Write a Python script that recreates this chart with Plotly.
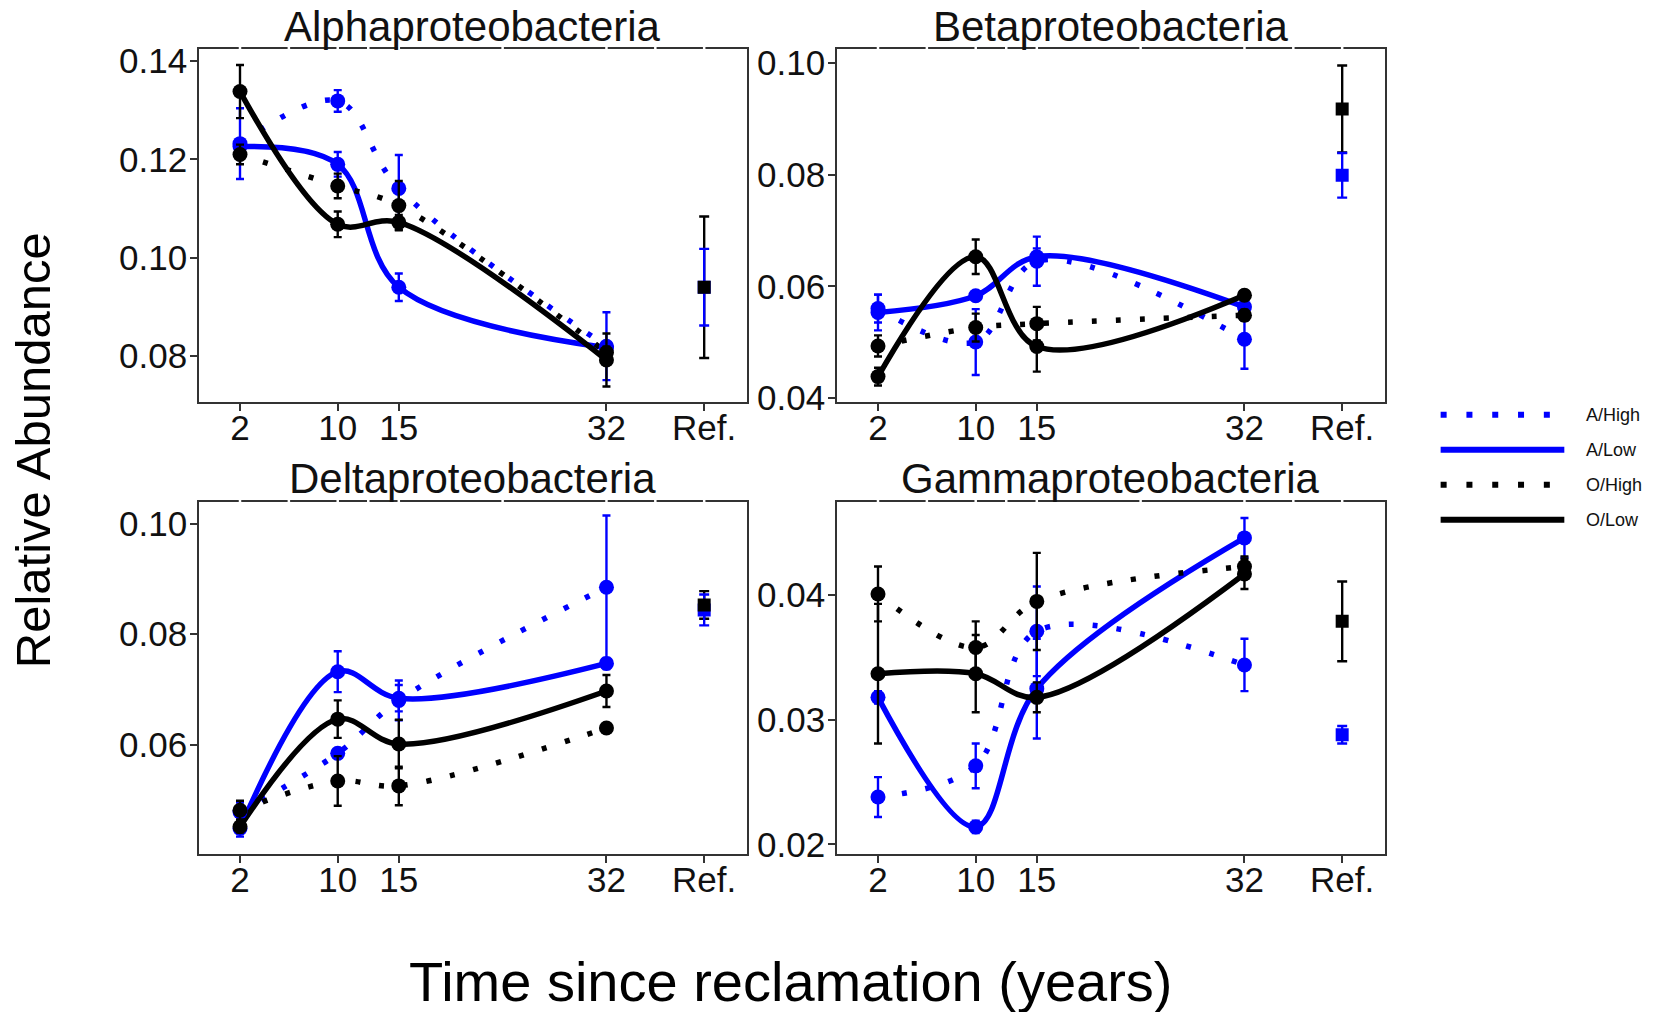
import plotly.graph_objects as go

# ---------------- data ----------------
years = [2, 10, 15, 32]
ref_x = 40
tick_vals = [2, 10, 15, 32, 40]
tick_text = ["2", "10", "15", "32", "Ref."]

panel_titles = ["Alphaproteobacteria", "Betaproteobacteria",
                "Deltaproteobacteria", "Gammaproteobacteria"]
series_names = ["A/High", "A/Low", "O/High", "O/Low"]

# Alphaproteobacteria
alpha_A_high = [0.1232, 0.1319, 0.1141, 0.0820]
alpha_A_high_se = [0.0072, 0.0022, 0.0068, 0.0069]
alpha_A_low = [0.1226, 0.1190, 0.0940, 0.0817]
alpha_A_low_se = [0.0012, 0.0025, 0.0028, 0.0010]
alpha_O_high = [0.1210, 0.1146, 0.1106, 0.0807]
alpha_O_high_se = [0.0020, 0.0025, 0.0050, 0.0012]
alpha_O_low = [0.1338, 0.1068, 0.1072, 0.0792]
alpha_O_low_se = [0.0054, 0.0026, 0.0015, 0.0054]
alpha_ref = [0.0940, 0.0940]      # [A, O]
alpha_ref_se = [0.0078, 0.0144]

# Betaproteobacteria
beta_A_high = [0.0560, 0.0500, 0.0645, 0.0505]
beta_A_high_se = [0.0025, 0.0059, 0.0044, 0.0053]
beta_A_low = [0.0553, 0.0583, 0.0653, 0.0563]
beta_A_low_se = [0.0032, 0.0008, 0.0015, 0.0010]
beta_O_high = [0.0493, 0.0526, 0.0533, 0.0548]
beta_O_high_se = [0.0019, 0.0025, 0.0030, 0.0010]
beta_O_low = [0.0438, 0.0653, 0.0492, 0.0584]
beta_O_low_se = [0.0016, 0.0031, 0.0045, 0.0008]
beta_ref = [0.0799, 0.0918]
beta_ref_se = [0.0040, 0.0078]

# Deltaproteobacteria
delta_A_high = [0.0478, 0.0584, 0.0680, 0.0885]
delta_A_high_se = [0.0017, 0.0008, 0.0036, 0.0130]
delta_A_low = [0.0448, 0.0732, 0.0684, 0.0747]
delta_A_low_se = [0.0015, 0.0037, 0.0024, 0.0010]
delta_O_high = [0.0481, 0.0534, 0.0525, 0.0630]
delta_O_high_se = [0.0017, 0.0045, 0.0035, 0.0005]
delta_O_low = [0.0451, 0.0646, 0.0601, 0.0697]
delta_O_low_se = [0.0010, 0.0034, 0.0044, 0.0029]
delta_ref = [0.0844, 0.0853]
delta_ref_se = [0.0028, 0.0025]

# Gammaproteobacteria
gamma_A_high = [0.0238, 0.0263, 0.0371, 0.0344]
gamma_A_high_se = [0.0016, 0.0018, 0.0036, 0.0021]
gamma_A_low = [0.0318, 0.0214, 0.0325, 0.0446]
gamma_A_low_se = [0.0005, 0.0005, 0.0040, 0.0016]
gamma_O_high = [0.0401, 0.0358, 0.0395, 0.0423]
gamma_O_high_se = [0.0022, 0.0021, 0.0039, 0.0008]
gamma_O_low = [0.0337, 0.0337, 0.0318, 0.0417]
gamma_O_low_se = [0.0056, 0.0031, 0.0012, 0.0012]
gamma_ref = [0.0288, 0.0379]
gamma_ref_se = [0.0007, 0.0032]

y_ranges = [[0.0706, 0.1424], [0.0392, 0.1025], [0.0401, 0.1040], [0.0192, 0.0475]]
y_ticks = [[0.08, 0.10, 0.12, 0.14], [0.04, 0.06, 0.08, 0.10],
           [0.06, 0.08, 0.10], [0.02, 0.03, 0.04]]

# ---------------- styling ----------------
BLUE = "#0000FF"
BLACK = "#000000"
FONT = "Liberation Sans, Arial, sans-serif"
DOT = "5px,19px"
series_style = [
    dict(color=BLUE, dash=DOT),
    dict(color=BLUE, dash="solid"),
    dict(color=BLACK, dash=DOT),
    dict(color=BLACK, dash="solid"),
]

panel_data = [
    ([alpha_A_high, alpha_A_low, alpha_O_high, alpha_O_low],
     [alpha_A_high_se, alpha_A_low_se, alpha_O_high_se, alpha_O_low_se],
     alpha_ref, alpha_ref_se),
    ([beta_A_high, beta_A_low, beta_O_high, beta_O_low],
     [beta_A_high_se, beta_A_low_se, beta_O_high_se, beta_O_low_se],
     beta_ref, beta_ref_se),
    ([delta_A_high, delta_A_low, delta_O_high, delta_O_low],
     [delta_A_high_se, delta_A_low_se, delta_O_high_se, delta_O_low_se],
     delta_ref, delta_ref_se),
    ([gamma_A_high, gamma_A_low, gamma_O_high, gamma_O_low],
     [gamma_A_high_se, gamma_A_low_se, gamma_O_high_se, gamma_O_low_se],
     gamma_ref, gamma_ref_se),
]

x_dom = [[0.1200, 0.4505], [0.5048, 0.8353]]
y_dom = [[0.6025, 0.9513], [0.1558, 0.5042]]

fig = go.Figure()
layout = dict(
    width=1658, height=1012, autosize=False,
    margin=dict(l=0, r=0, t=0, b=0, pad=0, autoexpand=False),
    paper_bgcolor="white", plot_bgcolor="white",
    showlegend=False,
    font=dict(family=FONT, color="#000000"),
)
annotations = []
shapes = []

# minor positions between major ticks (for white grid notches on the top border)
notch_x = []
for i in range(len(tick_vals)):
    notch_x.append(tick_vals[i])
    if i < len(tick_vals) - 1:
        notch_x.append((tick_vals[i] + tick_vals[i + 1]) / 2)

for p in range(4):
    row, col = p // 2, p % 2
    sfx = "" if p == 0 else str(p + 1)
    xa, ya = "x" + sfx, "y" + sfx
    means, ses, ref_vals, ref_ses = panel_data[p]

    # smoothed lines
    for s in range(4):
        st = series_style[s]
        fig.add_trace(go.Scatter(
            x=years, y=means[s], mode="lines", xaxis=xa, yaxis=ya,
            line=dict(color=st["color"], width=5.5,
                      dash=st["dash"], shape="spline", smoothing=1.0),
            hoverinfo="skip", name=series_names[s]))
    # points with error bars
    for s in range(4):
        st = series_style[s]
        fig.add_trace(go.Scatter(
            x=years, y=means[s], mode="markers", xaxis=xa, yaxis=ya,
            marker=dict(color=st["color"], size=15, symbol="circle"),
            error_y=dict(type="data", array=ses[s], color=st["color"],
                         thickness=2.4, width=4),
            name=series_names[s]))
    # reference points: O error bar, A (bar + square), O square
    fig.add_trace(go.Scatter(
        x=[ref_x], y=[ref_vals[1]], mode="markers", xaxis=xa, yaxis=ya,
        marker=dict(color=BLACK, size=1, opacity=0),
        error_y=dict(type="data", array=[ref_ses[1]], color=BLACK, thickness=2.4, width=5)))
    fig.add_trace(go.Scatter(
        x=[ref_x], y=[ref_vals[0]], mode="markers", xaxis=xa, yaxis=ya,
        marker=dict(color=BLUE, size=13, symbol="square"),
        error_y=dict(type="data", array=[ref_ses[0]], color=BLUE, thickness=2.4, width=5)))
    fig.add_trace(go.Scatter(
        x=[ref_x], y=[ref_vals[1]], mode="markers", xaxis=xa, yaxis=ya,
        marker=dict(color=BLACK, size=13, symbol="square")))

    axis_common = dict(
        showline=True, mirror=True, linecolor="#333333", linewidth=1.6,
        ticks="outside", ticklen=7, tickwidth=1.6, tickcolor="#333333",
        showgrid=False, zeroline=False, automargin=False,
        tickfont=dict(size=35, color="#111111", family=FONT),
    )
    layout["xaxis" + sfx] = dict(
        axis_common, domain=x_dom[col], range=[-1.36, 43.5],
        tickvals=tick_vals, ticktext=tick_text, anchor=ya,
        ticklabelstandoff=-13)
    layout["yaxis" + sfx] = dict(
        axis_common, domain=y_dom[row], range=y_ranges[p],
        tickvals=y_ticks[p], tickformat=".2f", anchor=xa,
        ticklabelstandoff=-4)

    # panel title
    annotations.append(dict(
        text=panel_titles[p], xref="paper", yref="paper",
        x=(x_dom[col][0] + x_dom[col][1]) / 2,
        y=y_dom[row][1] + 0.0225, xanchor="center", yanchor="middle",
        showarrow=False, font=dict(size=42, family=FONT, color="#111111")))

    # white grid notches on the top border
    for nx in notch_x:
        shapes.append(dict(type="line", xref=xa, yref=ya + " domain",
                           x0=nx, x1=nx, y0=0.993, y1=1.007,
                           line=dict(color="white", width=2.5), layer="above"))

# axis titles
annotations.append(dict(
    text="Relative Abundance", xref="paper", yref="paper",
    x=0.020, y=0.5553, xanchor="center", yanchor="middle", textangle=-90,
    showarrow=False, font=dict(size=49, family=FONT, color="#000000")))
annotations.append(dict(
    text="Time since reclamation (years)", xref="paper", yref="paper",
    x=0.4765, y=0.030, xanchor="center", yanchor="middle",
    showarrow=False, font=dict(size=56, family=FONT, color="#000000")))

# manual legend
leg_y = [0.5902, 0.5556, 0.5210, 0.4864]
for s in range(4):
    st = series_style[s]
    shapes.append(dict(type="line", xref="paper", yref="paper",
                       x0=0.8689, x1=0.9435, y0=leg_y[s], y1=leg_y[s],
                       line=dict(color=st["color"], width=6,
                                 dash="6px,19.8px" if st["dash"] != "solid" else "solid")))
    annotations.append(dict(
        text=series_names[s], xref="paper", yref="paper",
        x=0.9555, y=leg_y[s], xanchor="left", yanchor="middle",
        showarrow=False, font=dict(size=18, family=FONT, color="#111111")))

layout["annotations"] = annotations
layout["shapes"] = shapes
fig.update_layout(**layout)
fig.write_html("out.html")
